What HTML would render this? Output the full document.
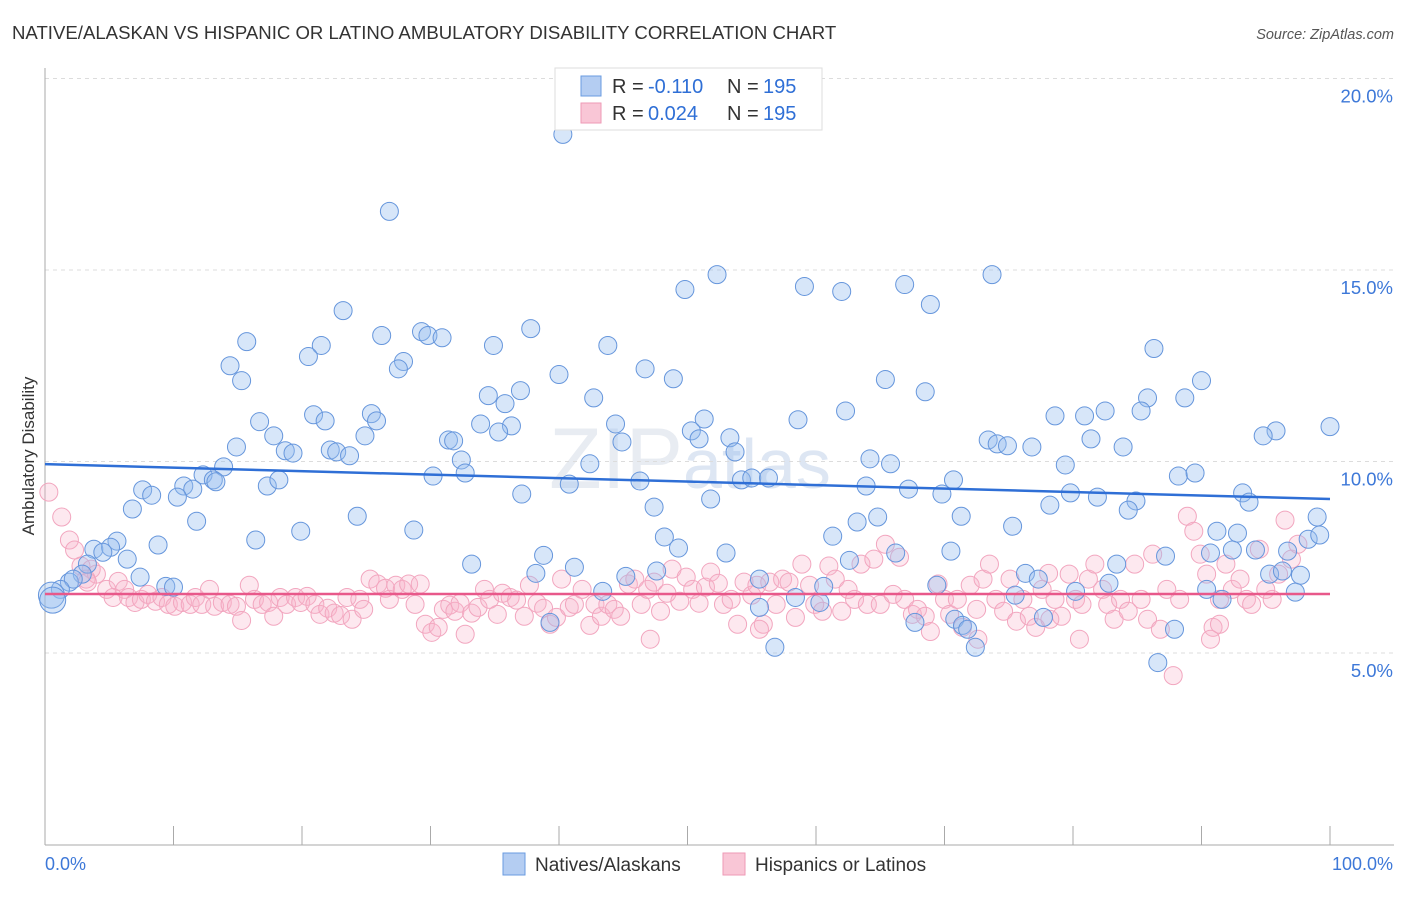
<!DOCTYPE html>
<html><head><meta charset="utf-8"><style>
body{margin:0;background:#fff;font-family:"Liberation Sans",sans-serif;}
svg text{font-family:"Liberation Sans",sans-serif;}
</style></head><body>
<svg id="chart" width="1406" height="892" viewBox="0 0 1406 892" xmlns="http://www.w3.org/2000/svg">
<text x="12" y="39" font-size="18.6" fill="#333">NATIVE/ALASKAN VS HISPANIC OR LATINO AMBULATORY DISABILITY CORRELATION CHART</text>
<text x="1394" y="39" font-size="14.5" fill="#555" font-style="italic" text-anchor="end">Source: ZipAtlas.com</text>
<text transform="translate(34,456) rotate(-90)" font-size="17" fill="#333" text-anchor="middle">Ambulatory Disability</text>
<text x="690" y="488" font-size="86" fill="#e8ecf2" text-anchor="middle" font-family="Liberation Serif">ZIP<tspan font-family="Liberation Sans" font-size="70" fill="#dde6f3">atlas</tspan></text>
<g id="grid"></g><g id="axes"></g><g id="pinkPts"></g><g id="bluePts"></g><g id="trends"></g>
<g>
<rect x="555" y="68" width="267" height="62" fill="#fff" stroke="#ddd"/>
<rect x="581" y="76" width="20" height="20" fill="#b4cdf2" stroke="#6a9be0"/>
<text x="612" y="93" font-size="20" fill="#333">R =</text>
<text x="648" y="93" font-size="20" fill="#2f6fd6">-0.110</text>
<text x="727" y="93" font-size="20" fill="#333">N =</text>
<text x="763" y="93" font-size="20" fill="#2f6fd6">195</text>
<rect x="581" y="103" width="20" height="20" fill="#f9c6d6" stroke="#ee9ab6"/>
<text x="612" y="120" font-size="20" fill="#333">R =</text>
<text x="648" y="120" font-size="20" fill="#2f6fd6">0.024</text>
<text x="727" y="120" font-size="20" fill="#333">N =</text>
<text x="763" y="120" font-size="20" fill="#2f6fd6">195</text>
</g>
<g>
<rect x="503" y="853" width="22" height="22" fill="#b4cdf2" stroke="#6a9be0"/>
<text x="535" y="871" font-size="19" fill="#333">Natives/Alaskans</text>
<rect x="723" y="853" width="22" height="22" fill="#f9c6d6" stroke="#ee9ab6"/>
<text x="755" y="871" font-size="19" fill="#333">Hispanics or Latinos</text>
</g>
</svg>
<script>
const yTicks=[5,10,15,20];
const yTickLabels=["5.0%","10.0%","15.0%","20.0%"];
const xTicks=[0,10,20,30,40,50,60,70,80,90,100];
const xEndLabels=["0.0%","100.0%"];
const blueX=[40.3,26.8,52.3,73.7,49.8,59.1,62.0,66.9,68.9,23.2,29.3,29.8,30.9,26.2,37.8,15.7,21.5,34.9,43.8,20.5,27.9,27.5,14.4,46.7,40.0,48.9,15.3,65.4,90.0,86.3,68.5,37.0,34.5,42.7,85.8,88.7,35.8,20.9,25.4,21.8,25.8,16.7,33.9,36.3,44.4,51.3,58.6,62.3,78.6,80.9,82.5,85.3,100,95.8,94.8,35.3,50.3,50.9,53.3,17.8,24.9,31.4,31.8,44.9,73.4,74.1,74.9,76.8,81.4,83.9,14.9,18.7,19.3,22.2,22.7,23.7,32.4,53.7,64.2,65.8,79.4,13.9,12.3,13.1,13.3,32.7,30.2,42.4,46.3,54.2,55.0,56.3,70.7,88.2,89.5,10.8,11.5,7.6,8.3,10.3,17.3,18.2,40.8,37.1,51.8,63.9,67.2,69.8,79.8,81.9,84.9,84.3,93.2,93.7,6.8,47.4,78.2,24.3,11.8,64.8,71.3,99.0,19.9,28.7,63.2,75.3,91.2,92.8,98.3,99.2,16.4,8.8,3.8,5.6,5.1,4.5,48.2,49.3,61.3,70.5,87.2,90.7,92.4,94.2,96.7,38.8,53.0,66.2,62.6,6.4,3.3,33.2,83.4,41.2,2.9,7.4,38.2,76.3,77.3,95.3,97.7,96.3,45.2,47.6,55.6,82.8,75.5,80.2,90.4,97.3,91.6,1.9,2.2,1.2,0.5,0.6,9.4,10.0,43.4,69.4,60.6,58.4,60.3,55.6,77.7,70.8,71.4,71.8,67.7,39.3,87.9,72.4,56.8,86.6];
const blueY=[18.54,16.53,14.88,14.88,14.49,14.57,14.44,14.62,14.10,13.94,13.39,13.29,13.23,13.29,13.47,13.13,13.03,13.03,13.03,12.74,12.61,12.42,12.50,12.42,12.27,12.16,12.11,12.14,12.11,12.95,11.82,11.85,11.72,11.66,11.66,11.66,11.51,11.22,11.25,11.06,11.06,11.04,10.98,10.93,10.98,11.11,11.09,11.32,11.19,11.19,11.32,11.32,10.91,10.80,10.67,10.77,10.80,10.59,10.62,10.67,10.67,10.56,10.54,10.51,10.56,10.46,10.41,10.38,10.59,10.38,10.38,10.28,10.22,10.30,10.25,10.15,10.04,10.25,10.07,9.94,9.91,9.86,9.65,9.52,9.47,9.70,9.62,9.94,9.49,9.52,9.57,9.57,9.52,9.62,9.70,9.36,9.28,9.26,9.12,9.07,9.36,9.52,9.41,9.15,9.02,9.36,9.28,9.15,9.18,9.07,8.97,8.73,9.18,8.94,8.76,8.81,8.86,8.57,8.44,8.55,8.57,8.55,8.18,8.21,8.42,8.31,8.18,8.13,7.97,8.08,7.95,7.82,7.71,7.92,7.76,7.63,8.03,7.74,8.05,7.66,7.53,7.61,7.69,7.69,7.66,7.55,7.61,7.61,7.42,7.45,7.32,7.32,7.32,7.24,7.06,6.98,7.08,7.08,6.93,7.06,7.03,7.14,7.00,7.14,6.93,6.82,6.51,6.61,6.66,6.59,6.40,6.85,6.93,6.66,6.51,6.38,6.74,6.72,6.61,6.77,6.74,6.45,6.32,6.19,5.93,5.88,5.72,5.62,5.80,5.80,5.62,5.15,5.15,4.75];
const pinkX=[0.3,1.3,1.9,2.3,2.8,3.6,4.0,3.2,3.3,4.8,5.7,6.2,5.3,6.5,7.0,7.5,8.0,8.6,9.1,9.6,10.1,10.7,11.3,11.7,12.2,12.8,13.2,13.8,14.4,14.9,15.3,15.9,16.3,16.9,17.4,17.8,18.3,18.8,19.5,19.9,20.4,21.0,21.4,22.0,22.5,23.0,23.5,23.9,24.5,24.8,25.3,25.9,26.5,26.8,27.3,27.8,28.3,28.8,29.2,29.6,30.1,30.6,31.0,31.5,31.9,32.3,32.7,33.2,33.7,34.2,34.6,35.2,35.6,36.2,36.7,37.3,37.7,38.3,38.8,39.3,39.8,40.2,40.8,41.2,41.8,42.4,42.8,43.3,43.8,44.3,44.8,45.4,45.9,46.4,46.9,47.4,47.9,48.4,48.8,49.4,49.9,50.4,50.9,51.4,51.8,52.4,52.8,53.4,53.9,54.4,55.0,55.4,55.9,56.4,56.9,57.4,57.9,58.4,58.9,59.5,59.9,60.5,61.0,61.5,62.0,62.5,63.0,63.5,64.0,64.5,65.0,65.4,66.0,66.5,66.9,67.5,67.9,68.5,68.9,69.5,70.0,70.4,71.0,71.4,72.0,72.5,73.0,73.5,74.0,74.6,75.1,75.6,76.1,76.6,77.1,77.6,78.1,78.6,79.1,79.7,80.2,80.7,81.2,81.7,82.3,82.7,83.2,83.7,84.3,84.8,85.3,85.8,86.2,86.8,87.3,87.8,88.3,88.9,89.4,89.9,90.4,90.9,91.4,91.9,92.4,93.0,93.5,93.9,94.5,95.0,95.5,96.0,96.5,97.0,97.5,90.7,91.4,80.5,72.6,78.2,55.6,47.1];
const pinkY=[9.20,8.55,7.95,7.69,7.27,7.19,7.06,6.93,6.85,6.66,6.87,6.66,6.45,6.45,6.32,6.40,6.53,6.35,6.45,6.27,6.22,6.32,6.27,6.45,6.27,6.66,6.22,6.32,6.27,6.22,5.85,6.77,6.40,6.27,6.32,5.96,6.45,6.27,6.45,6.32,6.48,6.27,6.01,6.17,6.04,5.98,6.45,5.88,6.40,6.14,6.93,6.80,6.69,6.40,6.77,6.66,6.80,6.27,6.80,5.75,5.54,5.67,6.14,6.25,6.09,6.30,5.49,6.04,6.19,6.66,6.40,6.01,6.56,6.45,6.38,5.96,6.77,6.30,6.17,5.75,5.93,6.93,6.19,6.27,6.66,5.72,6.27,5.96,6.27,6.14,5.96,6.80,6.93,6.27,6.66,6.85,6.09,6.56,7.19,6.35,6.98,6.66,6.30,6.72,7.11,6.82,6.27,6.40,5.75,6.85,6.51,6.77,5.75,6.85,6.27,6.93,6.85,5.93,7.32,6.77,6.27,6.09,7.27,6.93,6.09,6.66,6.40,7.32,6.27,7.45,6.27,7.84,6.53,7.50,6.40,6.01,6.14,5.96,5.56,6.80,6.40,6.01,6.40,5.67,6.77,6.14,6.93,7.32,6.40,6.09,6.93,5.83,6.40,5.96,5.67,6.66,7.08,6.40,5.96,7.06,6.40,6.27,6.93,7.32,6.66,6.27,5.88,6.40,6.09,7.32,6.40,5.88,7.58,5.62,6.66,4.41,6.40,8.57,8.18,7.58,7.06,5.67,6.40,7.32,6.66,6.93,6.40,6.27,7.71,6.66,6.40,7.06,8.47,7.45,7.84,5.36,5.75,5.36,5.36,5.88,5.62,5.36];
const blueTrend=[9.93,9.02];
const pinkTrend=[6.54,6.54];

const NS="http://www.w3.org/2000/svg";
const X0=45,X1=1330,Y0=844.5,PPU=38.3;
function xs(v){return X0+(X1-X0)*v/100;}
function ys(v){return Y0-PPU*v;}
function mk(tag,attrs,parent){const e=document.createElementNS(NS,tag);for(const k in attrs)e.setAttribute(k,attrs[k]);parent.appendChild(e);return e;}
const grid=document.getElementById('grid'),axes=document.getElementById('axes');
yTicks.forEach((t,i)=>{
  const l=mk('line',{x1:X0,x2:1394,y1:ys(t),y2:ys(t),stroke:'#dcdcdc','stroke-dasharray':'4,4'},grid);
  
  
  const tx=mk('text',{x:1393,y:ys(t)+24,'font-size':18.5,fill:'#3d78d8','text-anchor':'end'},axes);
  tx.textContent=yTickLabels[i];
  
  
});
const ax=mk('line',{x1:X0,x2:1394,y1:845,y2:845,stroke:'#aaa'},axes);


const ay=mk('line',{x1:X0,x2:X0,y1:68,y2:845,stroke:'#aaa'},axes);


xTicks.forEach(t=>{
  if(t===0)return;
  const l=mk('line',{x1:xs(t),x2:xs(t),y1:826,y2:845,stroke:'#aaa'},axes);
  
  
});
const xl0=mk('text',{x:45,y:870,'font-size':18,fill:'#3d78d8'},axes);xl0.textContent=xEndLabels[0];


const xl1=mk('text',{x:1393,y:870,'font-size':18,fill:'#3d78d8','text-anchor':'end'},axes);xl1.textContent=xEndLabels[1];



const pg=document.getElementById('pinkPts');
pinkX.forEach((x,i)=>{
  const c=mk('circle',{cx:xs(x),cy:ys(pinkY[i]),r:9,fill:'rgba(248,180,202,0.3)',stroke:'#f2a6bf','stroke-width':1},pg);
  
  
});
const bg=document.getElementById('bluePts');
blueX.forEach((x,i)=>{
  const c=mk('circle',{cx:xs(x),cy:ys(blueY[i]),r:x<1?13:9,fill:'rgba(150,188,240,0.38)',stroke:'#6696dc','stroke-width':1},bg);
  
  
});
const tg=document.getElementById('trends');
const bl=mk('line',{x1:xs(0),x2:xs(100),y1:ys(blueTrend[0]),y2:ys(blueTrend[1]),stroke:'#2f6fd6','stroke-width':2.5},tg);


const pl=mk('line',{x1:xs(0),x2:xs(100),y1:ys(pinkTrend[0]),y2:ys(pinkTrend[1]),stroke:'#e8588a','stroke-width':2.5},tg);


</script>
</body></html>
